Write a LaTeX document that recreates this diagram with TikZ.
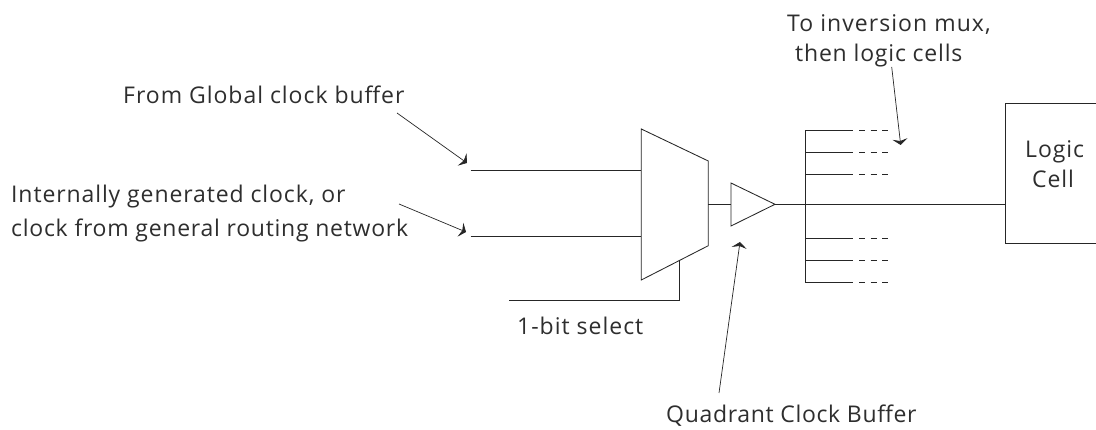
\documentclass[tikz,border=0pt]{standalone}
\usepackage{fontspec}
\setmainfont{Open Sans}
\usetikzlibrary{arrows.meta}
\tikzset{
 wire/.style={draw=black!85,line width=0.85pt},
 ptr/.style={draw=black!85,line width=0.7pt,-{Stealth[length=6pt,width=15pt,inset=2pt]}},
 lbl/.style={font=\fontsize{23pt}{30pt}\selectfont\addfontfeature{LetterSpace=#1},text=black!82,inner sep=0pt,anchor=base west},
}
\begin{document}
\begin{tikzpicture}[x=1pt,y=-1pt]
\useasboundingbox (0,0) rectangle (1096,430);
\fill[white] (0,0) rectangle (1096,430);
% labels
\node[lbl=4.2] (fromglobal) at (123,104) {From Global clock buffer};
\node[lbl=3.9] (internal1) at (11,203) {Internally generated clock, or};
\node[lbl=3.2] (internal2) at (11,237) {clock from general routing network};
\node[lbl=4.6] (tomux1) at (787,32) {To inversion mux,};
\node[lbl=3.5] (tomux2) at (795,62) {then logic cells};
\node[lbl=4.3] (select) at (517,335) {1-bit select};
\node[lbl=2.9] (quad) at (666,423) {Quadrant Clock Buffer};
\node[lbl=4] (logic1) at (1025,158) {Logic};
\node[lbl=4] (logic2) at (1032,188) {Cell};
% shapes
\draw[wire] (641.3,129) -- (708.3,161) -- (708.3,245.7) -- (641.3,280) -- cycle;
\draw[wire] (731,183) -- (775,204.3) coordinate (bout) -- (731,226) -- cycle;
\draw[wire] (1096,103.7) -- (1005,103.7) -- (1005,243.7) -- (1096,243.7);
\coordinate (box) at (1005,204.3);
% wires
\coordinate (in1) at (470.7,170.7); \coordinate (m1) at (641.3,170.7);
\coordinate (in2) at (470.7,236.3); \coordinate (m2) at (641.3,236.3);
\draw[wire] (in1) -- (m1);
\draw[wire] (in2) -- (m2);
\coordinate (sel0) at (509,300); \coordinate (selc) at (679.3,300); \coordinate (sel1) at (679.3,260.7);
\draw[wire] (sel0) -- (selc) -- (sel1);
\coordinate (mo) at (708.3,204.3); \coordinate (bi) at (731,204.3);
\draw[wire] (mo) -- (bi);
\draw[wire] (bout) -- (box);
\coordinate (bt) at (805.3,130.7); \coordinate (bb) at (805.3,282);
\draw[wire] (bt) -- (bb);
\foreach \yy in {130.7,152.3,174,238.7,260.3,282}{
  \draw[wire] (805.3,\yy) -- (853,\yy);
  \draw[wire,dash pattern=on 6pt off 5.5pt] (859,\yy) -- (889,\yy);
}
% pointers
\coordinate (p1a) at (397,113); \coordinate (p1b) at (467,163);
\coordinate (p2a) at (399,204); \coordinate (p2b) at (466,232);
\coordinate (p3a) at (891.7,67); \coordinate (p3b) at (900.7,145);
\coordinate (p4a) at (719,393); \coordinate (p4b) at (740,242);
\draw[ptr] (p1a) -- (p1b);
\draw[ptr] (p2a) -- (p2b);
\draw[ptr] (p3a) -- (p3b);
\draw[ptr] (p4a) -- (p4b);
\end{tikzpicture}
\end{document}
